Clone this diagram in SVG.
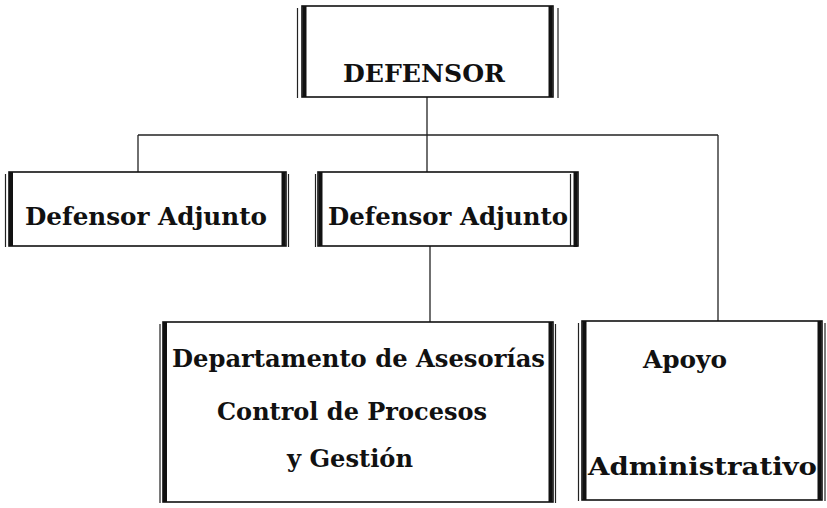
<svg xmlns="http://www.w3.org/2000/svg" width="827" height="508" viewBox="0 0 827 508">
<style>
.box{fill:#fff;stroke:#111;stroke-width:1.6}
.thick{stroke:#111;stroke-width:4;fill:none}
.thin{stroke:#222;stroke-width:1.2;fill:none}
.conn{stroke:#222;stroke-width:1.3;fill:none}
text{font-family:"DejaVu Serif","Liberation Serif",serif;font-weight:bold;font-size:25px;fill:#111}
</style>
<rect width="827" height="508" fill="#fff"/>
<g id="connectors">
<line class="conn" x1="427" y1="97" x2="427" y2="172"/>
<line class="conn" x1="138" y1="135" x2="718" y2="135"/>
<line class="conn" x1="138" y1="135" x2="138" y2="172"/>
<line class="conn" x1="718" y1="135" x2="718" y2="321"/>
<line class="conn" x1="430" y1="246" x2="430" y2="322"/>
</g>
<g id="defensor">
<rect class="box" x="302" y="6" width="251" height="91"/>
<line class="thick" x1="304.5" y1="6" x2="304.5" y2="97"/>
<line class="thin" x1="297.5" y1="8" x2="297.5" y2="98"/>
<line class="thick" x1="550.5" y1="6" x2="550.5" y2="97"/>
<line class="thin" x1="558" y1="8" x2="558" y2="98"/>
<text x="343" y="82" textLength="162" lengthAdjust="spacingAndGlyphs">DEFENSOR</text>
</g>
<g id="adjunto1">
<rect class="box" x="9" y="172" width="277" height="74"/>
<line class="thick" x1="11" y1="172" x2="11" y2="246"/>
<line class="thin" x1="5.5" y1="174" x2="5.5" y2="247"/>
<line class="thick" x1="283.5" y1="172" x2="283.5" y2="246"/>
<line class="thin" x1="288.5" y1="174" x2="288.5" y2="247"/>
<text x="25" y="225" textLength="242" lengthAdjust="spacingAndGlyphs">Defensor Adjunto</text>
</g>
<g id="adjunto2">
<rect class="box" x="318" y="172" width="260" height="74"/>
<line class="thick" x1="320.5" y1="172" x2="320.5" y2="246"/>
<line class="thin" x1="315.5" y1="174" x2="315.5" y2="247"/>
<line class="thin" x1="570.5" y1="174" x2="570.5" y2="246"/>
<line class="thick" x1="575.5" y1="172" x2="575.5" y2="247"/>
<text x="328" y="225" textLength="240" lengthAdjust="spacingAndGlyphs">Defensor Adjunto</text>
</g>
<g id="departamento">
<rect class="box" x="163" y="322" width="390" height="180"/>
<line class="thick" x1="165" y1="322" x2="165" y2="502"/>
<line class="thin" x1="160" y1="324" x2="160" y2="503"/>
<line class="thick" x1="550.5" y1="322" x2="550.5" y2="502"/>
<line class="thin" x1="555.5" y1="324" x2="555.5" y2="503"/>
<text x="172" y="367" textLength="373" lengthAdjust="spacingAndGlyphs">Departamento de Asesorías</text>
<text x="217" y="420" textLength="270" lengthAdjust="spacingAndGlyphs">Control de Procesos</text>
<text x="287" y="467" textLength="126" lengthAdjust="spacingAndGlyphs">y Gestión</text>
</g>
<g id="apoyo">
<rect class="box" x="582" y="321" width="240" height="179"/>
<line class="thick" x1="584.5" y1="321" x2="584.5" y2="500"/>
<line class="thin" x1="578.5" y1="323" x2="578.5" y2="501"/>
<line class="thick" x1="819.5" y1="321" x2="819.5" y2="500"/>
<line class="thin" x1="825" y1="323" x2="825" y2="501"/>
<text x="643" y="368" textLength="84" lengthAdjust="spacingAndGlyphs">Apoyo</text>
<text x="588" y="475" textLength="229" lengthAdjust="spacingAndGlyphs">Administrativo</text>
</g>
</svg>
